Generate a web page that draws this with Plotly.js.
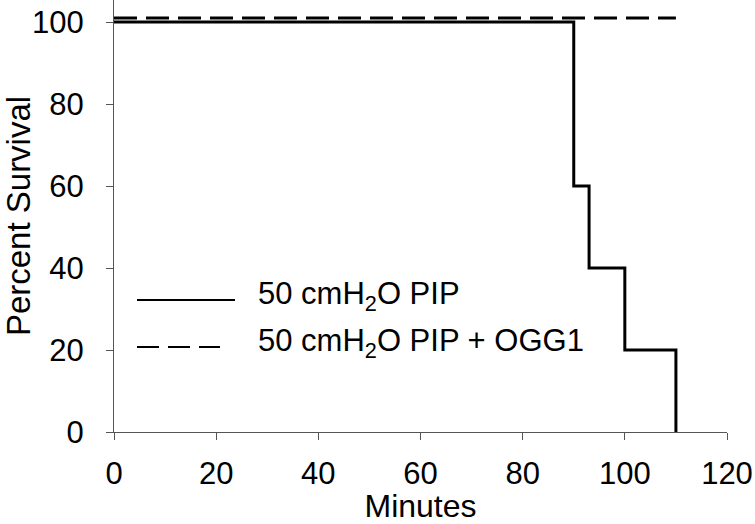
<!DOCTYPE html>
<html>
<head>
<meta charset="utf-8">
<script src="https://cdn.plot.ly/plotly-3.0.1.min.js"></script>
<style>html,body{margin:0;padding:0;background:#fff;}#chart{width:755px;height:524px;}</style>
</head>
<body>
<div id="chart"></div>
<script>
// Series: 50 cmH2O PIP (step survival curve)
var pipMinutes = [0, 90, 93, 100, 110];
var pipSurvival = [100, 60, 40, 20, 0];
// Series: 50 cmH2O PIP + OGG1
var oggMinutes = [0, 110];
var oggSurvival = [101, 101];
// Tick values
var xTicks = [0, 20, 40, 60, 80, 100, 120];
var yTicks = [0, 20, 40, 60, 80, 100];
var seriesNames = ['50 cmH<sub>2</sub>O PIP', '50 cmH<sub>2</sub>O PIP + OGG1'];

var FONT = 'Liberation Sans, Arial, sans-serif';

var traces = [
  {x: pipMinutes, y: pipSurvival, mode: 'lines', line: {shape: 'hv', color: '#000', width: 3}, name: seriesNames[0], showlegend: false},
  {x: oggMinutes, y: oggSurvival, mode: 'lines', line: {color: '#000', width: 3, dash: '23px,9px'}, name: seriesNames[1], showlegend: false}
];

var layout = {
  width: 755, height: 524,
  margin: {l: 114, r: 28, t: 0, b: 92},
  paper_bgcolor: '#fff', plot_bgcolor: '#fff',
  font: {family: FONT, size: 31, color: '#000'},
  xaxis: {
    range: [0, 120], tickvals: xTicks, ticktext: xTicks.map(String),
    showline: true, linecolor: '#555', linewidth: 1,
    ticks: 'outside', ticklen: 7, tickcolor: '#555', tickwidth: 1,
    showgrid: false, zeroline: false, ticklabelstandoff: 7,
    title: {text: 'Minutes', font: {size: 32}, standoff: 6}
  },
  yaxis: {
    range: [0, 105.37], tickvals: yTicks, ticktext: yTicks.map(String),
    showline: true, linecolor: '#555', linewidth: 1,
    ticks: 'outside', ticklen: 7, tickcolor: '#555', tickwidth: 1,
    showgrid: false, zeroline: false, ticklabelstandoff: 16,
    title: {text: 'Percent Survival', font: {size: 33}, standoff: 2}
  },
  shapes: [
    {type: 'line', xref: 'paper', yref: 'paper', x0: 23/613, x1: 121/613, y0: (432-300)/432, y1: (432-300)/432, line: {color: '#000', width: 2}},
    {type: 'line', xref: 'paper', yref: 'paper', x0: 23/613, x1: 106/613, y0: (432-347)/432, y1: (432-347)/432, line: {color: '#000', width: 2, dash: '22px,9px'}}
  ],
  annotations: [
    {xref: 'paper', yref: 'paper', x: 142/613, y: (432-296)/432, xanchor: 'left', yanchor: 'middle', text: seriesNames[0], showarrow: false, font: {size: 31}},
    {xref: 'paper', yref: 'paper', x: 142/613, y: (432-343)/432, xanchor: 'left', yanchor: 'middle', text: seriesNames[1], showarrow: false, font: {size: 31}}
  ]
};

Plotly.newPlot('chart', traces, layout, {displayModeBar: false, staticPlot: true});
</script>
</body>
</html>
